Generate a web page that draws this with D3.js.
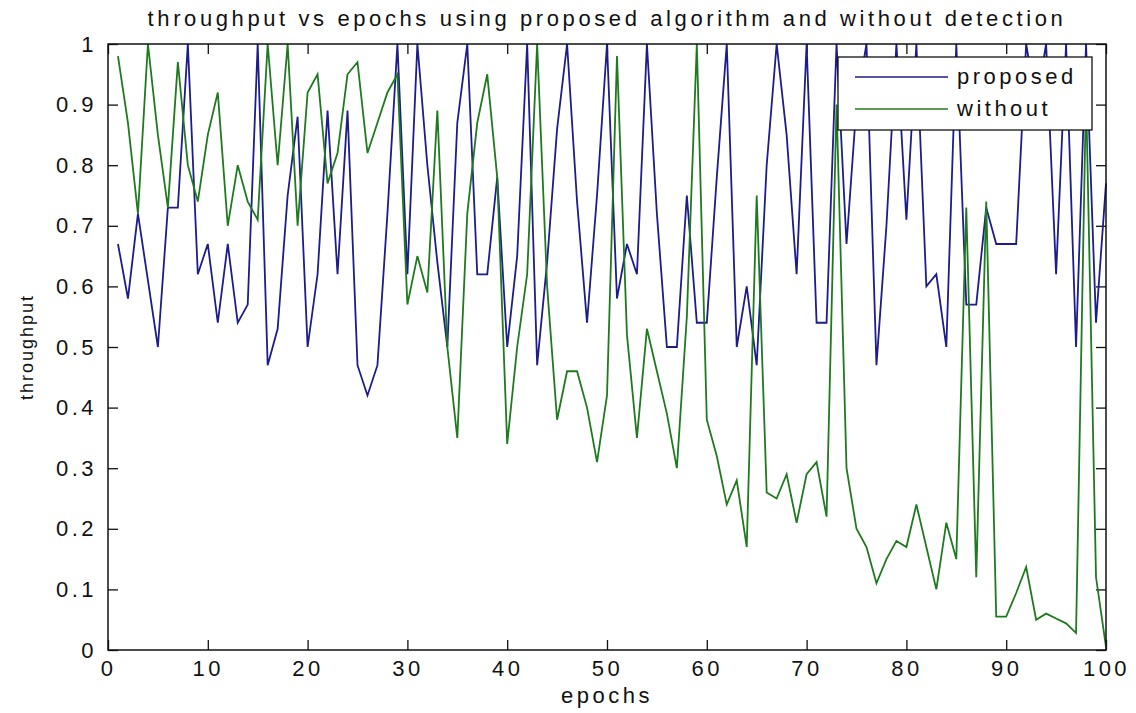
<!DOCTYPE html>
<html>
<head>
<meta charset="utf-8">
<style>
body { margin: 0; background: #fff; }
svg { display: block; }
text { font-family: "Liberation Sans", Arial, sans-serif; fill: #111; }
.tick text { font-size: 22px; letter-spacing: 3.5px; }
.tick line { stroke: #111; stroke-width: 1.3px; }
.frame { fill: none; stroke: #111; stroke-width: 1.5px; }
.series { fill: none; stroke-width: 1.8px; stroke-linejoin: miter; }
</style>
</head>
<body>
<svg id="chart" width="1136" height="713"></svg>

<script src="https://cdn.jsdelivr.net/npm/d3@7"></script>
<script>
// values, epochs 1..100
var epochs = d3.range(1, 101);

var proposed = [
  0.67, 0.58, 0.72, 0.61, 0.50, 0.73, 0.73, 1.00, 0.62, 0.67,
  0.54, 0.67, 0.54, 0.57, 1.00, 0.47, 0.53, 0.75, 0.88, 0.50,
  0.62, 0.89, 0.62, 0.89, 0.47, 0.42, 0.47, 0.72, 1.00, 0.62,
  1.00, 0.80, 0.64, 0.50, 0.87, 1.00, 0.62, 0.62, 0.78, 0.50,
  0.65, 1.00, 0.47, 0.64, 0.86, 1.00, 0.74, 0.54, 0.75, 1.00,
  0.58, 0.67, 0.62, 1.00, 0.72, 0.50, 0.50, 0.75, 0.54, 0.54,
  0.78, 1.00, 0.50, 0.60, 0.47, 0.80, 1.00, 0.85, 0.62, 1.00,
  0.54, 0.54, 1.00, 0.67, 0.90, 1.00, 0.47, 0.70, 1.00, 0.71,
  1.00, 0.60, 0.62, 0.50, 1.00, 0.57, 0.57, 0.73, 0.67, 0.67,
  0.67, 1.00, 0.90, 1.00, 0.62, 1.00, 0.50, 1.00, 0.54, 0.77
];

var without = [
  0.98, 0.87, 0.72, 1.00, 0.85, 0.73, 0.97, 0.80, 0.74, 0.85,
  0.92, 0.70, 0.80, 0.74, 0.71, 1.00, 0.80, 1.00, 0.70, 0.92,
  0.95, 0.77, 0.82, 0.95, 0.97, 0.82, 0.87, 0.92, 0.95, 0.57,
  0.65, 0.59, 0.89, 0.50, 0.35, 0.72, 0.87, 0.95, 0.78, 0.34,
  0.50, 0.62, 1.00, 0.60, 0.38, 0.46, 0.46, 0.40, 0.31, 0.42,
  0.98, 0.52, 0.35, 0.53, 0.46, 0.39, 0.30, 0.55, 1.00, 0.38,
  0.32, 0.24, 0.28, 0.17, 0.75, 0.26, 0.25, 0.29, 0.21, 0.29,
  0.31, 0.22, 0.90, 0.30, 0.20, 0.17, 0.11, 0.15, 0.18, 0.17,
  0.24, 0.17, 0.10, 0.21, 0.15, 0.73, 0.12, 0.74, 0.055, 0.055,
  0.094, 0.137, 0.05, 0.06, 0.052, 0.044, 0.028, 0.92, 0.12, 0.005
];

var xTicks = [0, 10, 20, 30, 40, 50, 60, 70, 80, 90, 100];
var yTicks = [0, 0.1, 0.2, 0.3, 0.4, 0.5, 0.6, 0.7, 0.8, 0.9, 1];
var yTickLabels = ["0", "0.1", "0.2", "0.3", "0.4", "0.5", "0.6", "0.7", "0.8", "0.9", "1"];
var seriesNames = ["proposed", "without"];
var seriesColors = ["#1c1c8a", "#1f7a1f"];

var svg = d3.select("#chart"),
    margin = {top: 44, right: 30, bottom: 63, left: 108},
    width = +svg.attr("width") - margin.left - margin.right,
    height = +svg.attr("height") - margin.top - margin.bottom;

var g = svg.append("g")
    .attr("transform", "translate(" + margin.left + "," + margin.top + ")");

var x = d3.scaleLinear().domain([0, 100]).range([0, width]);
var y = d3.scaleLinear().domain([0, 1]).range([height, 0]);

// axes, ticks pointing inward on all four sides
g.append("g")
    .attr("transform", "translate(0," + height + ")")
    .call(d3.axisBottom(x).tickValues(xTicks).tickSize(-10).tickSizeOuter(0).tickPadding(10))
    .call(function(s) { s.select(".domain").remove(); });

g.append("g")
    .call(d3.axisTop(x).tickValues(xTicks).tickSize(-10).tickSizeOuter(0).tickFormat(""))
    .call(function(s) { s.select(".domain").remove(); });

g.append("g")
    .call(d3.axisLeft(y).tickValues(yTicks).tickSize(-10).tickSizeOuter(0).tickPadding(11)
      .tickFormat(function(d, i) { return yTickLabels[i]; }))
    .call(function(s) { s.select(".domain").remove(); });

g.append("g")
    .attr("transform", "translate(" + width + ",0)")
    .call(d3.axisRight(y).tickValues(yTicks).tickSize(-10).tickSizeOuter(0).tickFormat(""))
    .call(function(s) { s.select(".domain").remove(); });

g.selectAll(".tick text").attr("fill", "#111");

// data lines
var line = d3.line()
    .x(function(d, i) { return x(epochs[i]); })
    .y(function(d) { return y(d); });

[proposed, without].forEach(function(vals, k) {
  g.append("path")
    .datum(vals)
    .attr("class", "series")
    .attr("stroke", seriesColors[k])
    .attr("d", line);
});

// box
g.append("rect")
    .attr("class", "frame")
    .attr("width", width)
    .attr("height", height);

// legend
var legend = svg.append("g").attr("transform", "translate(838,57)");
legend.append("rect")
    .attr("width", 254)
    .attr("height", 73)
    .attr("fill", "#fff")
    .attr("stroke", "#111")
    .attr("stroke-width", 1.3);

seriesNames.forEach(function(name, k) {
  legend.append("line")
    .attr("x1", 17).attr("x2", 110)
    .attr("y1", 20 + k * 32).attr("y2", 20 + k * 32)
    .attr("stroke", seriesColors[k])
    .attr("stroke-width", 1.6);
  legend.append("text")
    .attr("x", 119)
    .attr("y", 27 + k * 32)
    .style("font-size", "22px")
    .style("letter-spacing", "3.5px")
    .text(name);
});

// titles
svg.append("text")
    .attr("x", margin.left + width / 2)
    .attr("y", 26)
    .attr("text-anchor", "middle")
    .style("font-size", "22px")
    .style("letter-spacing", "3.6px")
    .text("throughput vs epochs using proposed algorithm and without detection");

svg.append("text")
    .attr("x", margin.left + width / 2)
    .attr("y", 703)
    .attr("text-anchor", "middle")
    .style("font-size", "22px")
    .style("letter-spacing", "3.5px")
    .text("epochs");

svg.append("text")
    .attr("transform", "translate(33," + (margin.top + height / 2) + ") rotate(-90)")
    .attr("text-anchor", "middle")
    .style("font-size", "18px")
    .style("letter-spacing", "2px")
    .text("throughput");
</script>
</body>
</html>
